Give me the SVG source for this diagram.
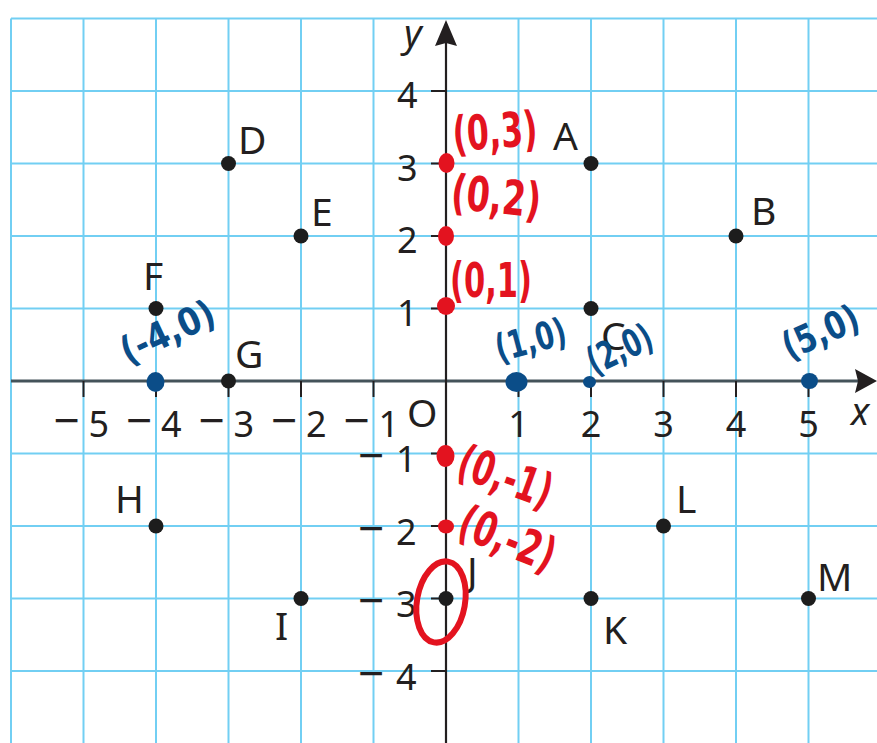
<svg xmlns="http://www.w3.org/2000/svg" width="877" height="743" viewBox="0 0 877 743">
<style>
.grid line{stroke:#72cff3;stroke-width:2}
.tick{stroke:#231f20;stroke-width:2}
.lbl{font-family:"Noto Sans","Open Sans",sans-serif;font-size:39px;fill:#231f20}
.num{font-family:"Noto Sans","Open Sans",sans-serif;font-size:36px;fill:#231f20}
.mn{font-size:46px}
.ax{font-family:"Noto Sans","Open Sans",sans-serif;font-size:38px;font-style:italic;fill:#231f20}
.pt{fill:#1d1d1d}
.red{fill:#e3131f}
.blue{fill:#0b4d88}
.rt{font-family:"DejaVu Sans",sans-serif;font-weight:bold;font-size:48px;fill:#e3131f;text-anchor:middle}
.bt{font-family:"DejaVu Sans",sans-serif;font-weight:bold;font-size:38px;fill:#0b4d88;text-anchor:middle}
</style>
<rect width="877" height="743" fill="#ffffff"/>
<g class="grid" id="grid">
<line x1="11" y1="18.5" x2="11" y2="743"/>
<line x1="83.5" y1="18.5" x2="83.5" y2="743"/>
<line x1="156" y1="18.5" x2="156" y2="743"/>
<line x1="228.5" y1="18.5" x2="228.5" y2="743"/>
<line x1="301" y1="18.5" x2="301" y2="743"/>
<line x1="373.5" y1="18.5" x2="373.5" y2="743"/>
<line x1="518.5" y1="18.5" x2="518.5" y2="743"/>
<line x1="591" y1="18.5" x2="591" y2="743"/>
<line x1="663.5" y1="18.5" x2="663.5" y2="743"/>
<line x1="736" y1="18.5" x2="736" y2="743"/>
<line x1="808.5" y1="18.5" x2="808.5" y2="743"/>
<line x1="11" y1="18.5" x2="877" y2="18.5"/>
<line x1="11" y1="91" x2="877" y2="91"/>
<line x1="11" y1="163.5" x2="877" y2="163.5"/>
<line x1="11" y1="236" x2="877" y2="236"/>
<line x1="11" y1="308.5" x2="877" y2="308.5"/>
<line x1="11" y1="453.5" x2="877" y2="453.5"/>
<line x1="11" y1="526" x2="877" y2="526"/>
<line x1="11" y1="598.5" x2="877" y2="598.5"/>
<line x1="11" y1="671" x2="877" y2="671"/>
</g>
<g id="connectors">
<line x1="11" y1="381" x2="860" y2="381" stroke="#44535a" stroke-width="3"/>
<path d="M877,381 L855,369 L858,381 L855,393 Z" fill="#231f20"/>
<line x1="446" y1="743" x2="446" y2="40" stroke="#231f20" stroke-width="2.2"/>
<path d="M446,20 L457,46 L446,43 L435,46 Z" fill="#231f20"/>
<g class="tick">
<line x1="83.5" y1="381" x2="83.5" y2="397"/>
<line x1="156" y1="381" x2="156" y2="397"/>
<line x1="228.5" y1="381" x2="228.5" y2="397"/>
<line x1="301" y1="381" x2="301" y2="397"/>
<line x1="373.5" y1="381" x2="373.5" y2="397"/>
<line x1="518.5" y1="381" x2="518.5" y2="397"/>
<line x1="591" y1="381" x2="591" y2="397"/>
<line x1="663.5" y1="381" x2="663.5" y2="397"/>
<line x1="736" y1="381" x2="736" y2="397"/>
<line x1="808.5" y1="381" x2="808.5" y2="397"/>
<line x1="431" y1="91" x2="446" y2="91"/>
<line x1="431" y1="163.5" x2="446" y2="163.5"/>
<line x1="431" y1="236" x2="446" y2="236"/>
<line x1="431" y1="308.5" x2="446" y2="308.5"/>
<line x1="431" y1="453.5" x2="446" y2="453.5"/>
<line x1="431" y1="526" x2="446" y2="526"/>
<line x1="431" y1="598.5" x2="446" y2="598.5"/>
<line x1="431" y1="671" x2="446" y2="671"/>
</g>
</g>
<g id="axis-labels">
<text class="ax" x="851" y="425">x</text>
<text class="ax" x="404" y="47">y</text>
<text class="lbl" x="407" y="427">O</text>
<text class="num" y="437"><tspan class="mn" x="53.5">−</tspan><tspan x="88.5">5</tspan></text>
<text class="num" y="437"><tspan class="mn" x="126">−</tspan><tspan x="161">4</tspan></text>
<text class="num" y="437"><tspan class="mn" x="198.5">−</tspan><tspan x="233.5">3</tspan></text>
<text class="num" y="437"><tspan class="mn" x="271">−</tspan><tspan x="306">2</tspan></text>
<text class="num" y="437"><tspan class="mn" x="343.5">−</tspan><tspan x="378.5">1</tspan></text>
<text class="num" y="437" text-anchor="middle" x="518.5">1</text>
<text class="num" y="437" text-anchor="middle" x="591">2</text>
<text class="num" y="437" text-anchor="middle" x="663.5">3</text>
<text class="num" y="437" text-anchor="middle" x="736">4</text>
<text class="num" y="437" text-anchor="middle" x="808.5">5</text>
<text class="num" x="397" y="108">4</text>
<text class="num" x="397" y="180.5">3</text>
<text class="num" x="397" y="253">2</text>
<text class="num" x="397" y="325.5">1</text>
<text class="num" y="472"><tspan class="mn" x="358">−</tspan><tspan x="396">1</tspan></text>
<text class="num" y="544.5"><tspan class="mn" x="358">−</tspan><tspan x="396">2</tspan></text>
<text class="num" y="617"><tspan class="mn" x="358">−</tspan><tspan x="396">3</tspan></text>
<text class="num" y="689.5"><tspan class="mn" x="358">−</tspan><tspan x="396">4</tspan></text>
</g>
<g id="point-A"><circle class="pt" cx="591" cy="163.5" r="7.5"/><text class="lbl" x="553" y="150">A</text></g>
<g id="point-B"><circle class="pt" cx="736" cy="236" r="7.5"/><text class="lbl" x="751" y="225">B</text></g>
<g id="point-C"><circle class="pt" cx="591" cy="308.5" r="7.5"/><text class="lbl" x="601" y="350">C</text></g>
<g id="point-D"><circle class="pt" cx="228.5" cy="163.5" r="7.5"/><text class="lbl" x="238" y="154">D</text></g>
<g id="point-E"><circle class="pt" cx="301" cy="236" r="7.5"/><text class="lbl" x="311" y="226">E</text></g>
<g id="point-F"><circle class="pt" cx="156" cy="308.5" r="7.5"/><text class="lbl" x="143" y="290">F</text></g>
<g id="point-G"><circle class="pt" cx="228.5" cy="381" r="7.5"/><text class="lbl" x="235" y="368">G</text></g>
<g id="point-H"><circle class="pt" cx="156" cy="526" r="7.5"/><text class="lbl" x="115" y="513">H</text></g>
<g id="point-I"><circle class="pt" cx="301" cy="598.5" r="7.5"/><text class="lbl" x="275" y="640">I</text></g>
<g id="point-J"><circle class="pt" cx="446" cy="598.5" r="7.5"/><text class="lbl" x="467" y="585">J</text></g>
<g id="point-K"><circle class="pt" cx="591" cy="598.5" r="7.5"/><text class="lbl" x="603" y="644">K</text></g>
<g id="point-L"><circle class="pt" cx="663.5" cy="526" r="7.5"/><text class="lbl" x="676" y="513">L</text></g>
<g id="point-M"><circle class="pt" cx="808.5" cy="598.5" r="7.5"/><text class="lbl" x="817" y="591">M</text></g>
<g id="red-annotations">
<ellipse class="red" cx="446.5" cy="163" rx="8" ry="10"/>
<ellipse class="red" cx="446" cy="236" rx="8" ry="10"/>
<ellipse class="red" cx="446" cy="306" rx="9" ry="9"/>
<ellipse class="red" cx="445.5" cy="456" rx="9" ry="11"/>
<ellipse class="red" cx="446" cy="526.5" rx="8" ry="7"/>
<ellipse cx="441" cy="602" rx="24" ry="41" fill="none" stroke="#e3131f" stroke-width="6" transform="rotate(10 441 602)"/>
<text class="rt" x="495" y="148" textLength="85" lengthAdjust="spacingAndGlyphs" transform="rotate(-4 495 133)">(0,3)</text>
<text class="rt" x="496" y="213" textLength="90" lengthAdjust="spacingAndGlyphs" transform="rotate(6 496 198)">(0,2)</text>
<text class="rt" x="491" y="297" textLength="82" lengthAdjust="spacingAndGlyphs">(0,1)</text>
<text class="rt" x="505" y="493" textLength="97" lengthAdjust="spacingAndGlyphs" transform="rotate(20 505 478)">(0,-1)</text>
<text class="rt" x="507" y="555" textLength="100" lengthAdjust="spacingAndGlyphs" transform="rotate(22 507 540)">(0,-2)</text>
</g>
<g id="blue-annotations">
<ellipse class="blue" cx="155.5" cy="382" rx="9" ry="10"/>
<ellipse class="blue" cx="516.5" cy="382" rx="11" ry="10"/>
<ellipse class="blue" cx="589.5" cy="382" rx="6.5" ry="6"/>
<ellipse class="blue" cx="809.5" cy="381" rx="8.5" ry="8"/>
<text class="bt" x="168" y="345" textLength="100" lengthAdjust="spacingAndGlyphs" transform="rotate(-25 168 333)">(-4,0)</text>
<text class="bt" x="531" y="353" textLength="72" lengthAdjust="spacingAndGlyphs" transform="rotate(-15 531 341)">(1,0)</text>
<text class="bt" x="620" y="362" textLength="68" lengthAdjust="spacingAndGlyphs" transform="rotate(-25 620 350)">(2,0)</text>
<text class="bt" x="821" y="345" textLength="80" lengthAdjust="spacingAndGlyphs" transform="rotate(-24 821 333)">(5,0)</text>
</g>
</svg>
